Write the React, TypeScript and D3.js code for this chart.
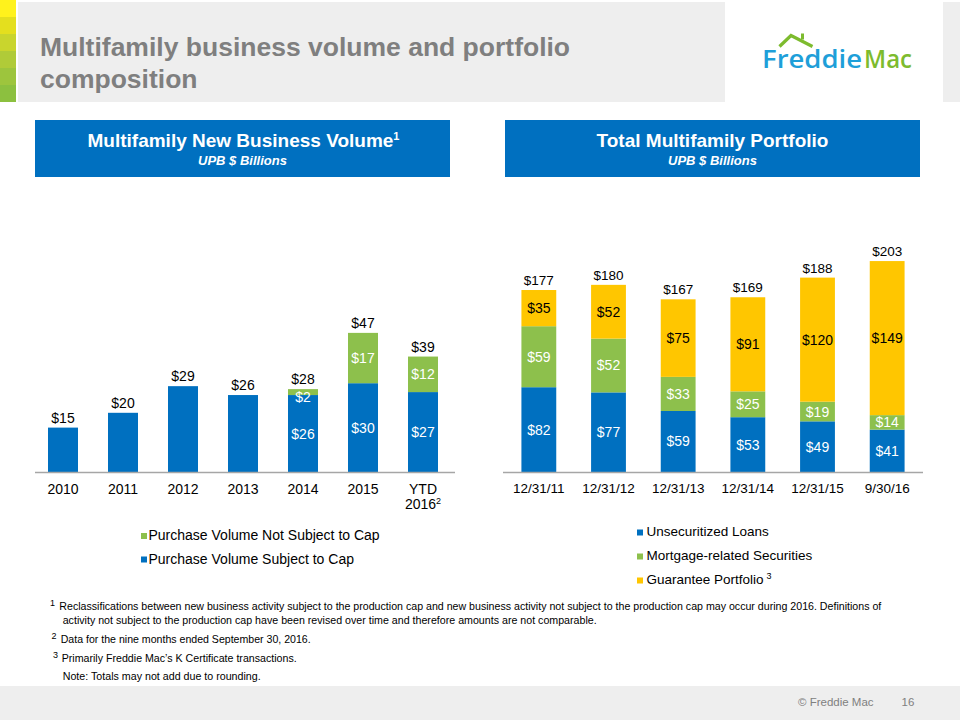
import React from 'react';
import * as d3 from 'd3';

// ---------- Data ----------
const leftCategories = ['2010', '2011', '2012', '2013', '2014', '2015', 'YTD 2016'];
const leftCategoryNotes = ['', '', '', '', '', '', '2'];
const subjectToCap = [15, 20, 29, 26, 26, 30, 27];
const notSubjectToCap = [0, 0, 0, 0, 2, 17, 12];
const leftTotals = [15, 20, 29, 26, 28, 47, 39];
const leftSeriesNames = ['Purchase Volume Not Subject to Cap', 'Purchase Volume Subject to Cap'];

const rightCategories = ['12/31/11', '12/31/12', '12/31/13', '12/31/14', '12/31/15', '9/30/16'];
const unsecuritizedLoans = [82, 77, 59, 53, 49, 41];
const mortgageSecurities = [59, 52, 33, 25, 19, 14];
const guaranteePortfolio = [35, 52, 75, 91, 120, 149];
const rightTotals = [177, 180, 167, 169, 188, 203];
const rightSeriesNames = ['Unsecuritized Loans', 'Mortgage-related Securities', 'Guarantee Portfolio'];

const footnotes = [
  { mark: '1', text: 'Reclassifications between new business activity subject to the production cap and new business activity not subject to the production cap may occur during 2016.  Definitions of' },
  { mark: '', text: 'activity not subject to the production cap have been revised over time and therefore amounts are not comparable.' },
  { mark: '2', text: 'Data for the nine months ended September 30, 2016.' },
  { mark: '3', text: 'Primarily Freddie Mac\u2019s K Certificate transactions.' },
  { mark: '', text: 'Note: Totals may not add due to rounding.' },
];

// ---------- Styles ----------
const BLUE = '#0070C0';
const GREEN = '#8DC04C';
const YELLOW = '#FFC600';
const FONT = 'Liberation Sans, Arial, Helvetica, sans-serif';
const GRAY_BG = '#EEEEEE';
const stripColors = ['#FFF21C', '#E4DF1E', '#C9D52D', '#B0CB38', '#9DC53D', '#8CC03F'];

export default function App() {
  // ----- Left chart -----
  const lx = d3.scaleBand<string>().domain(leftCategories).range([33, 453]).paddingInner(0.5).paddingOuter(0.25);
  const ly = d3.scaleLinear().domain([0, 50]).range([472, 324]);
  const leftRows = leftCategories.map((c, i) => ({ cat: c, subject: subjectToCap[i], notSubject: notSubjectToCap[i] }));
  const leftStack = d3.stack<any>().keys(['subject', 'notSubject'])(leftRows);
  const leftColors: Record<string, string> = { subject: BLUE, notSubject: GREEN };

  // ----- Right chart -----
  const rx = d3.scaleBand<string>().domain(rightCategories).range([504, 922]).paddingInner(0.5).paddingOuter(0.25);
  const ry = d3.scaleLinear().domain([0, 210]).range([472, 472 - 210 * 1.034]);
  const rightRows = rightCategories.map((c, i) => ({ cat: c, loans: unsecuritizedLoans[i], mrs: mortgageSecurities[i], gp: guaranteePortfolio[i] }));
  const rightStack = d3.stack<any>().keys(['loans', 'mrs', 'gp'])(rightRows);
  const rightColors: Record<string, string> = { loans: BLUE, mrs: GREEN, gp: YELLOW };
  const rightLabelColors: Record<string, string> = { loans: '#FFFFFF', mrs: '#FFFFFF', gp: '#000000' };

  return (
    <svg width={960} height={720} style={{ position: 'absolute', left: 0, top: 0, background: '#fff' }} fontFamily={FONT}>
      <rect x={0} y={0} width={960} height={720} fill="#FFFFFF" />
      {/* header banner */}
      <rect x={18} y={2} width={707} height={100} fill={GRAY_BG} />
      <rect x={943} y={2} width={17} height={100} fill={GRAY_BG} />
      {stripColors.map((c, i) => (
        <rect key={i} x={0} y={i * 17} width={16} height={17} fill={c} />
      ))}
      <text x={40} y={56} fontSize={26.5} fontWeight="bold" fill="#7F7F7F">Multifamily business volume and portfolio</text>
      <text x={40} y={88} fontSize={26.5} fontWeight="bold" fill="#7F7F7F">composition</text>

      {/* logo */}
      <path d="M779.5,46.5 L791,35.5 L812.5,46.5" fill="none" stroke="#7DBB2E" strokeWidth={3.2} strokeLinejoin="miter" />
      <rect x={801} y={33.5} width={3} height={6} fill="#7DBB2E" />
      <text x={762} y={68} fontSize={26} fontWeight={600} fill="#1E9FD9" fontFamily="Open Sans, Noto Sans, sans-serif" textLength={100} lengthAdjust="spacingAndGlyphs">Freddie</text>
      <text x={864} y={68} fontSize={26} fontWeight={600} fill="#7DBB2E" fontFamily="Open Sans, Noto Sans, sans-serif" textLength={48} lengthAdjust="spacingAndGlyphs">Mac</text>

      {/* section header boxes */}
      <rect x={35} y={120} width={415} height={57} fill={BLUE} />
      <text x={243.5} y={147} textAnchor="middle" fontSize={19} fontWeight="bold" fill="#fff">
        Multifamily New Business Volume<tspan fontSize={11} dy={-7}>1</tspan>
      </text>
      <text x={242.5} y={165} textAnchor="middle" fontSize={13} fontWeight="bold" fontStyle="italic" fill="#fff">UPB $ Billions</text>

      <rect x={505} y={120} width={415} height={57} fill={BLUE} />
      <text x={712.5} y={147} textAnchor="middle" fontSize={19} fontWeight="bold" fill="#fff">Total Multifamily Portfolio</text>
      <text x={712.5} y={165} textAnchor="middle" fontSize={13} fontWeight="bold" fontStyle="italic" fill="#fff">UPB $ Billions</text>

      {/* left chart bars */}
      {leftStack.map((series) => (
        <g key={series.key}>
          {series.map((d, i) => {
            const h = ly(d[0]) - ly(d[1]);
            if (h <= 0) return null;
            return (
              <rect key={i} x={lx(leftCategories[i])} y={ly(d[1])} width={lx.bandwidth()} height={h} fill={leftColors[series.key]} />
            );
          })}
        </g>
      ))}
      {/* left inner labels (stacked bars only) */}
      {leftStack.map((series) => (
        <g key={'l' + series.key}>
          {series.map((d, i) => {
            if (notSubjectToCap[i] <= 0) return null;
            const top = ly(d[1]);
            const center = (ly(d[0]) + ly(d[1])) / 2;
            const yy = Math.max(center, top + 8) + 5;
            const v = d[1] - d[0];
            return (
              <text key={i} x={(lx(leftCategories[i]) as number) + lx.bandwidth() / 2} y={yy} textAnchor="middle" fontSize={14} fill="#fff">${v}</text>
            );
          })}
        </g>
      ))}
      {leftTotals.map((t, i) => (
        <text key={'lt' + i} x={(lx(leftCategories[i]) as number) + lx.bandwidth() / 2} y={ly(subjectToCap[i] + notSubjectToCap[i]) - 5} textAnchor="middle" fontSize={14} fill="#000">${t}</text>
      ))}
      <line x1={35} x2={455} y1={472.5} y2={472.5} stroke="#A6A6A6" strokeWidth={1.5} />
      {leftCategories.map((c, i) => {
        const parts = c.split(' ');
        const cx = (lx(c) as number) + lx.bandwidth() / 2;
        return (
          <g key={'lx' + i}>
            {parts.map((p, j) => (
              <text key={j} x={cx} y={494 + j * 15} textAnchor="middle" fontSize={14} fill="#000">
                {p}
                {j === parts.length - 1 && leftCategoryNotes[i] ? <tspan fontSize={9} dy={-5}>{leftCategoryNotes[i]}</tspan> : null}
              </text>
            ))}
          </g>
        );
      })}
      {/* left legend */}
      {leftSeriesNames.map((n, i) => (
        <g key={'lg' + i}>
          <rect x={141} y={533 + i * 23.5} width={6} height={6} fill={i === 0 ? GREEN : BLUE} />
          <text x={148.5} y={540 + i * 23.5} fontSize={14} fill="#000">{n}</text>
        </g>
      ))}

      {/* right chart bars */}
      {rightStack.map((series) => (
        <g key={series.key}>
          {series.map((d, i) => (
            <rect key={i} x={rx(rightCategories[i])} y={ry(d[1])} width={rx.bandwidth()} height={ry(d[0]) - ry(d[1])} fill={rightColors[series.key]} />
          ))}
        </g>
      ))}
      {rightStack.map((series) => (
        <g key={'rl' + series.key}>
          {series.map((d, i) => (
            <text key={i} x={(rx(rightCategories[i]) as number) + rx.bandwidth() / 2} y={(ry(d[0]) + ry(d[1])) / 2 + 5} textAnchor="middle" fontSize={14} fill={rightLabelColors[series.key]}>${d[1] - d[0]}</text>
          ))}
        </g>
      ))}
      {rightTotals.map((t, i) => (
        <text key={'rt' + i} x={(rx(rightCategories[i]) as number) + rx.bandwidth() / 2} y={ry(unsecuritizedLoans[i] + mortgageSecurities[i] + guaranteePortfolio[i]) - 5} textAnchor="middle" fontSize={13.5} fill="#000">${t}</text>
      ))}
      <line x1={503} x2={923} y1={472.5} y2={472.5} stroke="#A6A6A6" strokeWidth={1.5} />
      {rightCategories.map((c, i) => (
        <text key={'rx' + i} x={(rx(c) as number) + rx.bandwidth() / 2} y={493} textAnchor="middle" fontSize={13.5} fill="#000">{c}</text>
      ))}
      {/* right legend */}
      {rightSeriesNames.map((n, i) => (
        <g key={'rg' + i}>
          <rect x={637} y={529.5 + i * 24} width={6} height={6} fill={[BLUE, GREEN, YELLOW][i]} />
          <text x={646.5} y={536 + i * 24} fontSize={13.5} fill="#000">
            {n}
            {i === 2 ? <tspan fontSize={9} dx={3} dy={-5}>3</tspan> : null}
          </text>
        </g>
      ))}

      {/* footnotes */}
      {footnotes.map((f, i) => {
        const ys = [610, 624, 643, 662, 680];
        const xs = [59.3, 62.7, 60.7, 61.7, 62.7];
        const lens = [822, 534, 250, 235, 198];
        const mx = [50, 0, 51.5, 53, 0];
        return (
          <g key={'fn' + i}>
            {f.mark ? <text x={mx[i]} y={ys[i] - 4} fontSize={9} fill="#000">{f.mark}</text> : null}
            <text x={xs[i]} y={ys[i]} fontSize={11.5} fill="#000" textLength={lens[i]} lengthAdjust="spacingAndGlyphs">{f.text}</text>
          </g>
        );
      })}

      {/* footer */}
      <rect x={0} y={686} width={960} height={34} fill={GRAY_BG} />
      <text x={798} y={706} fontSize={11.5} fill="#808080">© Freddie Mac</text>
      <text x={901.5} y={706} fontSize={11.5} fill="#808080">16</text>
    </svg>
  );
}
